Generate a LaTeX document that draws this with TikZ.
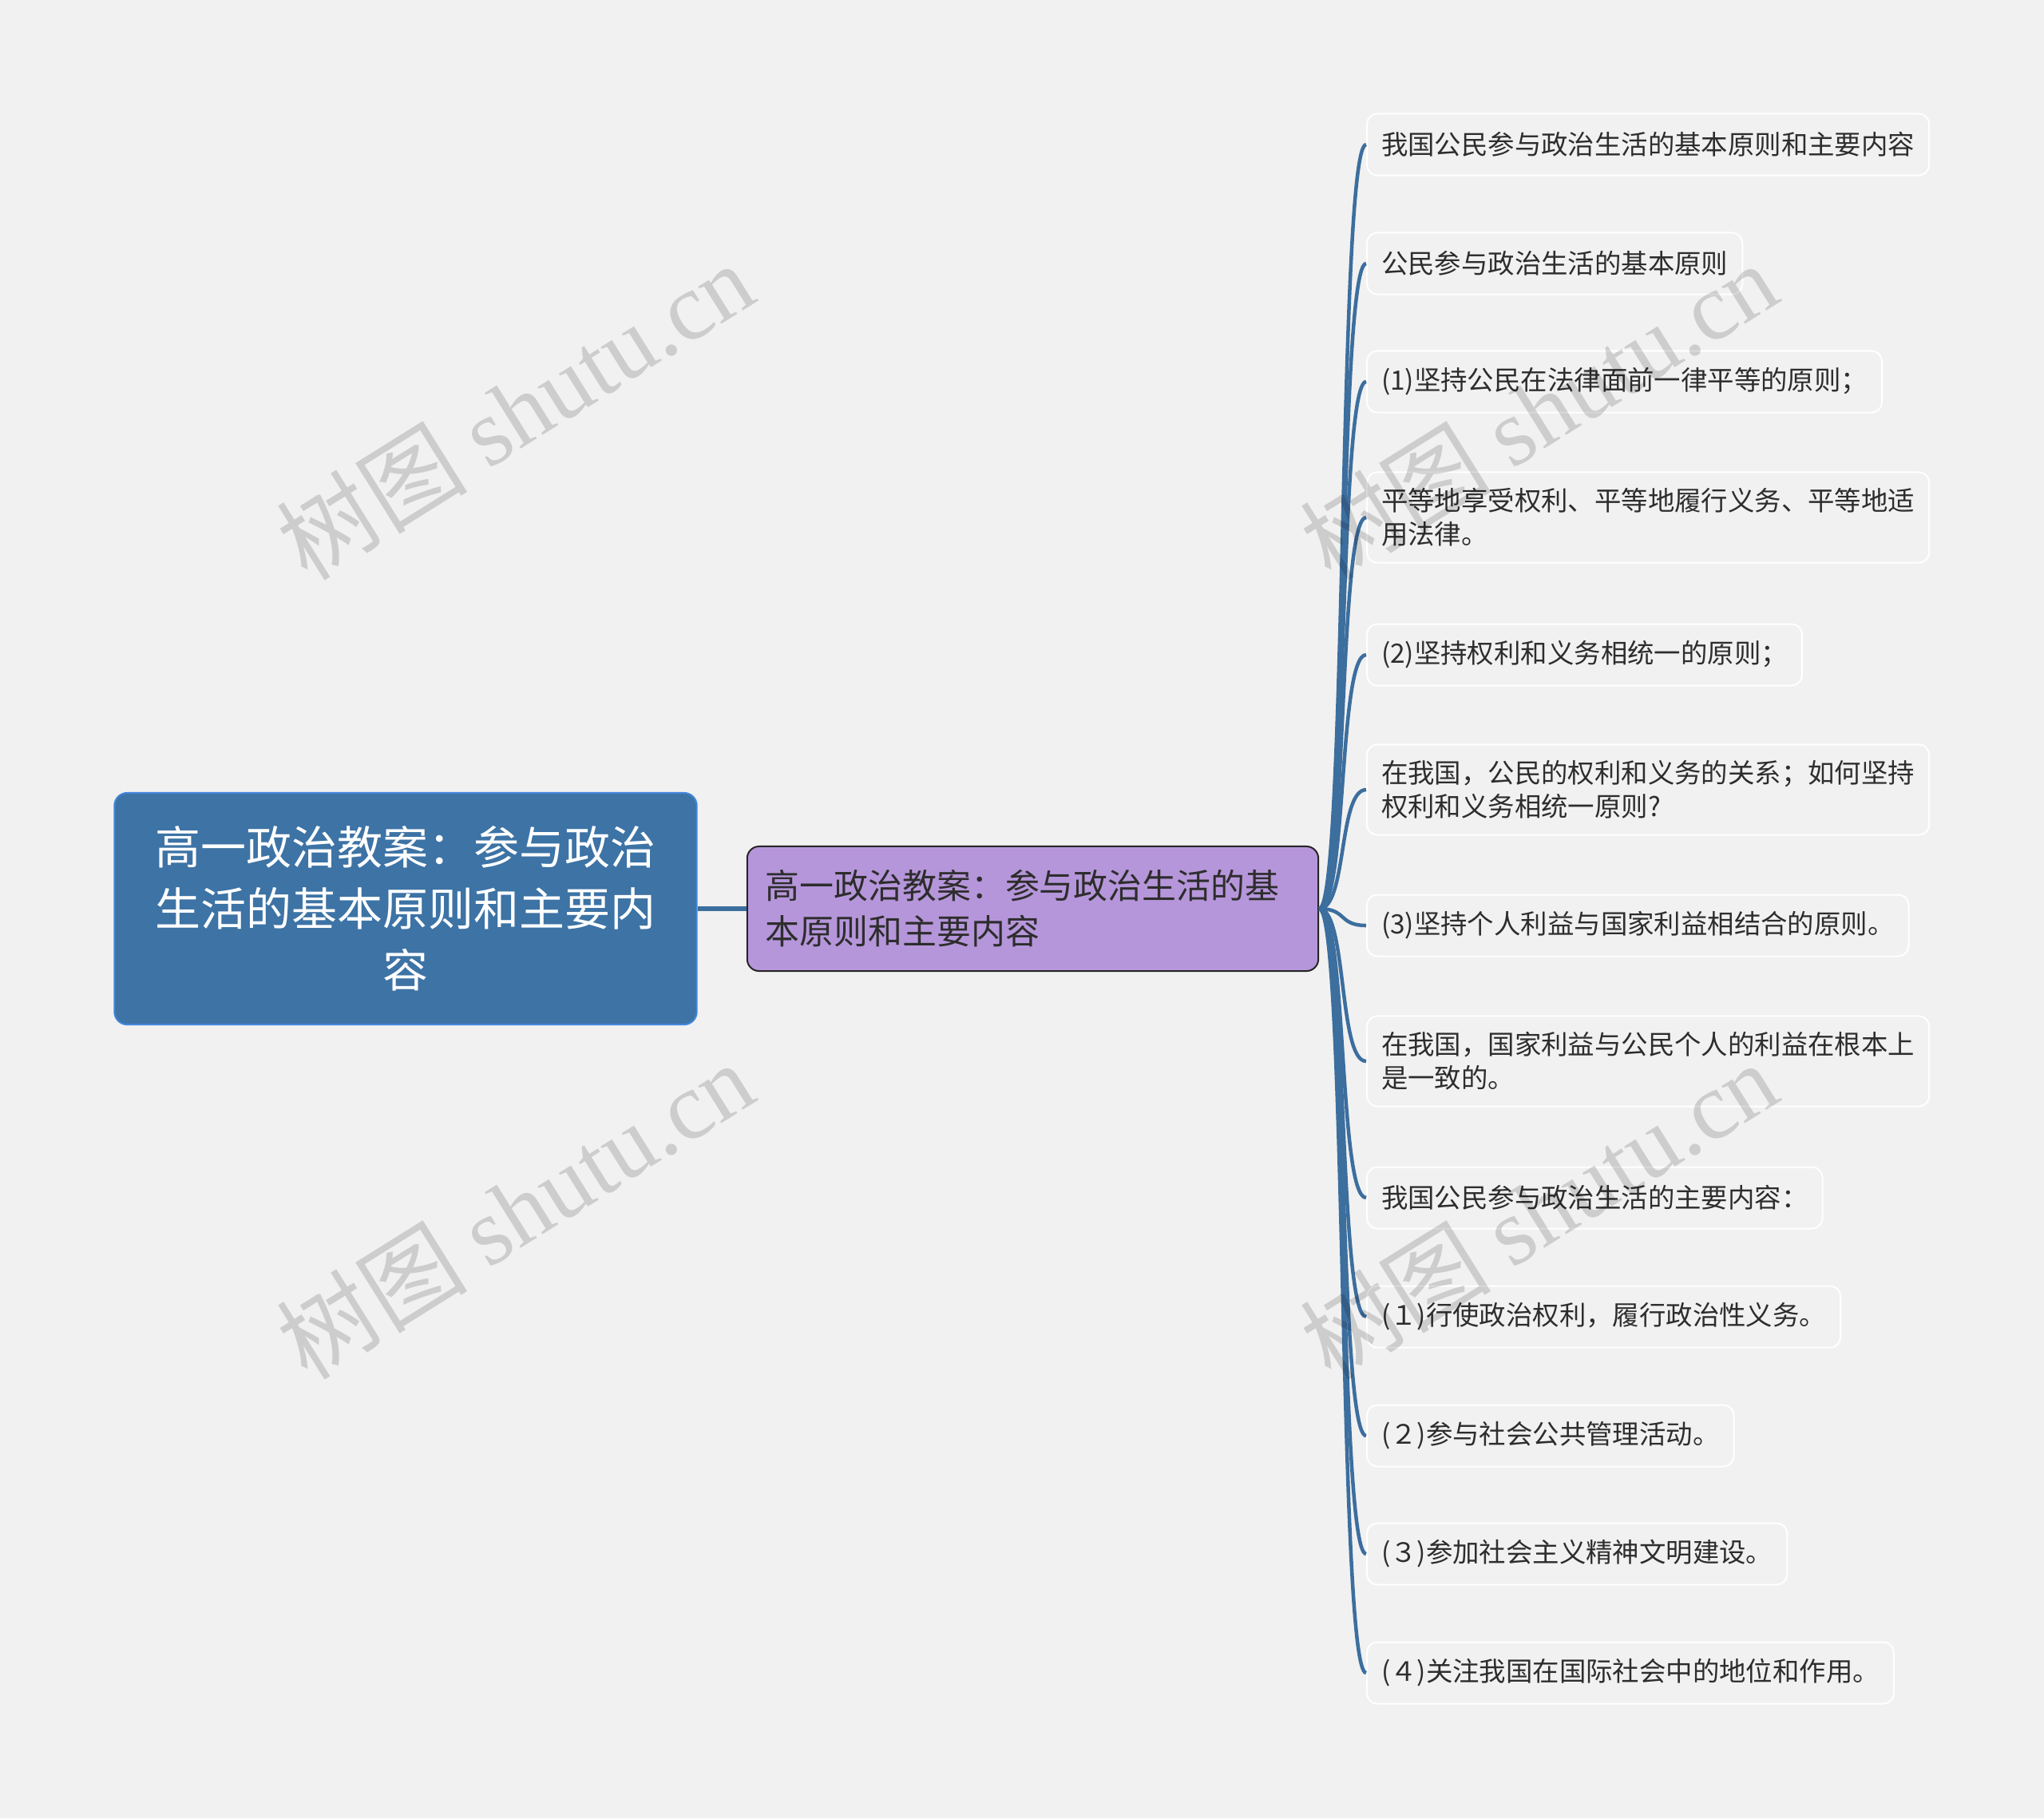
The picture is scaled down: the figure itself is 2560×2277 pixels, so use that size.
\documentclass[tikz,border=0pt]{standalone}
\usepackage{fontspec}
\setmainfont{Noto Sans CJK SC}
\newfontfamily\wmlatin{Liberation Serif}
\usetikzlibrary{positioning}
\definecolor{bgc}{RGB}{241,241,241}
\definecolor{rootc}{RGB}{61,115,165}
\definecolor{rootedge}{RGB}{66,135,220}
\definecolor{midc}{RGB}{182,150,218}
\definecolor{linkc}{RGB}{60,110,158}
\definecolor{txtc}{RGB}{45,45,45}

\begin{document}
\begin{tikzpicture}[x=0.01cm,y=-0.01cm,
    rootbox/.style={draw=rootedge, line width=0.02cm, fill=rootc, rounded corners=0.16cm, text=white,
        align=center, text width=6.4cm, inner xsep=0.445cm, minimum height=2.9cm,
        font=\fontsize{16.2}{21.9}\selectfont},
    midbox/.style={draw=black!85, line width=0.02cm, fill=midc, rounded corners=0.15cm, text=txtc,
        align=left, text width=6.69cm, inner xsep=0.23cm, minimum height=1.56cm,
        font=\fontsize{12.2}{16.2}\selectfont},
    leafbox/.style={draw=white, line width=0.02cm, fill=bgc, rounded corners=0.13cm, text=txtc,
        align=left, inner xsep=0.18cm, inner ysep=0.2cm, minimum height=0.77cm, anchor=west,
        font=\fontsize{9.5}{12}\selectfont},
    link/.style={draw=linkc, line width=0.045cm},
    wmark/.style={text=black, opacity=0.15, rotate=32, font=\fontsize{34}{34}\selectfont}]

    \fill[bgc] (0,0) rectangle (2560,2277);
    \useasboundingbox (0,0) rectangle (2560,2277);

    \node[rootbox] (root) at (508,1138) {高一政治教案：参与政治\\生活的基本原则和主要内\\容};
    \node[midbox, right=0.61cm of root] (mid) {高一政治教案：参与政治生活的基\\本原则和主要内容};
    \draw[link, line width=0.065cm] (root) -- (mid);

    \foreach \n/\y/\t in {1/181/{我国公民参与政治生活的基本原则和主要内容},
            2/330/{公民参与政治生活的基本原则},
            3/478/{(1)坚持公民在法律面前一律平等的原则；},
            4/648/{平等地享受权利、平等地履行义务、平等地适\\用法律。},
            5/820/{(2)坚持权利和义务相统一的原则；},
            6/989/{在我国，公民的权利和义务的关系；如何坚持\\权利和义务相统一原则?},
            7/1159/{(3)坚持个人利益与国家利益相结合的原则。},
            8/1329/{在我国，国家利益与公民个人的利益在根本上\\是一致的。},
            9/1500/{我国公民参与政治生活的主要内容：},
            10/1649/{(１)行使政治权利，履行政治性义务。},
            11/1798/{(２)参与社会公共管理活动。},
            12/1946/{(３)参加社会主义精神文明建设。},
            13/2095/{(４)关注我国在国际社会中的地位和作用。}}{
        \node[leafbox] (l\n) at (1711,\y) {\t};
        \draw[link] (mid.east) .. controls +(35,0) and +(-35,0) .. (l\n.west);
    }

    \foreach \wx/\wy [count=\k] in {645/514, 1927/514, 645/1515, 1927/1515}
        \node[wmark] (wm\k) at (\wx,\wy) {树图 {\wmlatin shutu.cn}};
\end{tikzpicture}
\end{document}
